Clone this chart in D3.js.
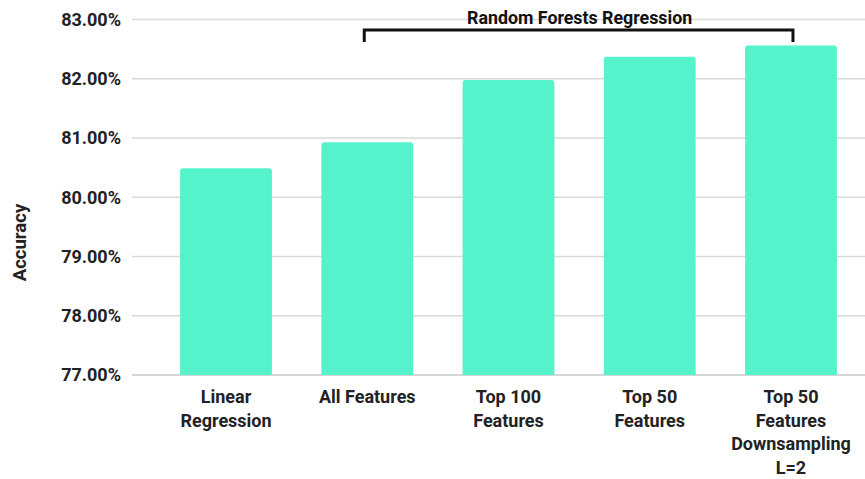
<!DOCTYPE html>
<html>
<head>
<meta charset="utf-8">
<script src="https://cdn.jsdelivr.net/npm/d3@7"></script>
<style>
  html, body { margin: 0; padding: 0; background: #fff; }
  svg { display: block; font-family: Roboto, "Noto Sans", sans-serif; }
</style>
</head>
<body>
<svg id="chart" width="865" height="479"></svg>
<script>
// Model accuracy by feature set
const categories = [
  ["Linear", "Regression"],
  ["All Features"],
  ["Top 100", "Features"],
  ["Top 50", "Features"],
  ["Top 50", "Features", "Downsampling", "L=2"]
];
const accuracy = [80.49, 80.93, 81.98, 82.37, 82.56];
const yTicks = [77, 78, 79, 80, 81, 82, 83];
const groupLabel = "Random Forests Regression";
const groupMembers = [1, 4]; // first and last bar under the bracket

const svg = d3.select("#chart");
const W = 865;
const keys = categories.map(c => c.join(" "));

const x = d3.scaleBand()
  .domain(keys)
  .range([155.4, 861.6])
  .paddingInner(0.35)
  .paddingOuter(0.175);

const y = d3.scaleLinear()
  .domain([77, 83])
  .range([375, 19.5]);

const gridLeft = 132;

// horizontal grid lines
svg.append("g")
  .selectAll("line")
  .data(yTicks)
  .join("line")
  .attr("x1", gridLeft)
  .attr("x2", W)
  .attr("y1", d => y(d))
  .attr("y2", d => y(d))
  .attr("stroke", d => d === 77 ? "#c8c8c8" : "#d9d9d9")
  .attr("stroke-width", 1.4);

// y axis tick labels
const yAxis = d3.axisLeft(y)
  .tickValues(yTicks)
  .tickSize(0)
  .tickPadding(0)
  .tickFormat(d => d3.format(".2f")(d) + "%");

svg.append("g")
  .attr("transform", "translate(121,0)")
  .call(yAxis)
  .call(g => g.select(".domain").remove())
  .selectAll("text")
  .attr("font-family", "Roboto, sans-serif")
  .attr("font-size", 18)
  .attr("font-weight", 700)
  .attr("fill", "#222");

// bars with slightly rounded tops
const r = 3;
function barPath(x0, w, yTop, yBase) {
  return `M${x0},${yBase}V${yTop + r}Q${x0},${yTop} ${x0 + r},${yTop}` +
    `H${x0 + w - r}Q${x0 + w},${yTop} ${x0 + w},${yTop + r}V${yBase}Z`;
}

svg.append("g")
  .selectAll("path")
  .data(accuracy)
  .join("path")
  .attr("d", (d, i) => barPath(x(keys[i]), x.bandwidth(), y(d), y(77)))
  .attr("fill", "#55f3cb");

// category labels (multi-line)
const xl = svg.append("g");
categories.forEach((lines, i) => {
  const cx = x(keys[i]) + x.bandwidth() / 2;
  const t = xl.append("text")
    .attr("x", cx)
    .attr("y", 403)
    .attr("text-anchor", "middle")
    .attr("font-size", 18)
    .attr("font-weight", 700)
    .attr("fill", "#222");
  lines.forEach((ln, j) => {
    t.append("tspan")
      .attr("x", cx)
      .attr("dy", j === 0 ? 0 : 23.5)
      .text(ln);
  });
});

// y axis title
svg.append("text")
  .attr("transform", "translate(26,242.5) rotate(-90)")
  .attr("text-anchor", "middle")
  .attr("font-size", 18.5)
  .attr("font-weight", 700)
  .attr("fill", "#222")
  .text("Accuracy");

// bracket over the random forest bars
const bx1 = x(keys[groupMembers[0]]) + x.bandwidth() / 2 - 3;
const bx2 = x(keys[groupMembers[1]]) + x.bandwidth() / 2 + 2;
const bTop = 30, bDrop = 12;
svg.append("path")
  .attr("d", `M${bx1},${bTop + bDrop}V${bTop}H${bx2}V${bTop + bDrop}`)
  .attr("fill", "none")
  .attr("stroke", "#111")
  .attr("stroke-width", 3);

svg.append("text")
  .attr("x", (bx1 + bx2) / 2 + 1)
  .attr("y", 24)
  .attr("text-anchor", "middle")
  .attr("font-size", 17.8)
  .attr("font-weight", 700)
  .attr("fill", "#111")
  .text(groupLabel);
</script>
</body>
</html>
